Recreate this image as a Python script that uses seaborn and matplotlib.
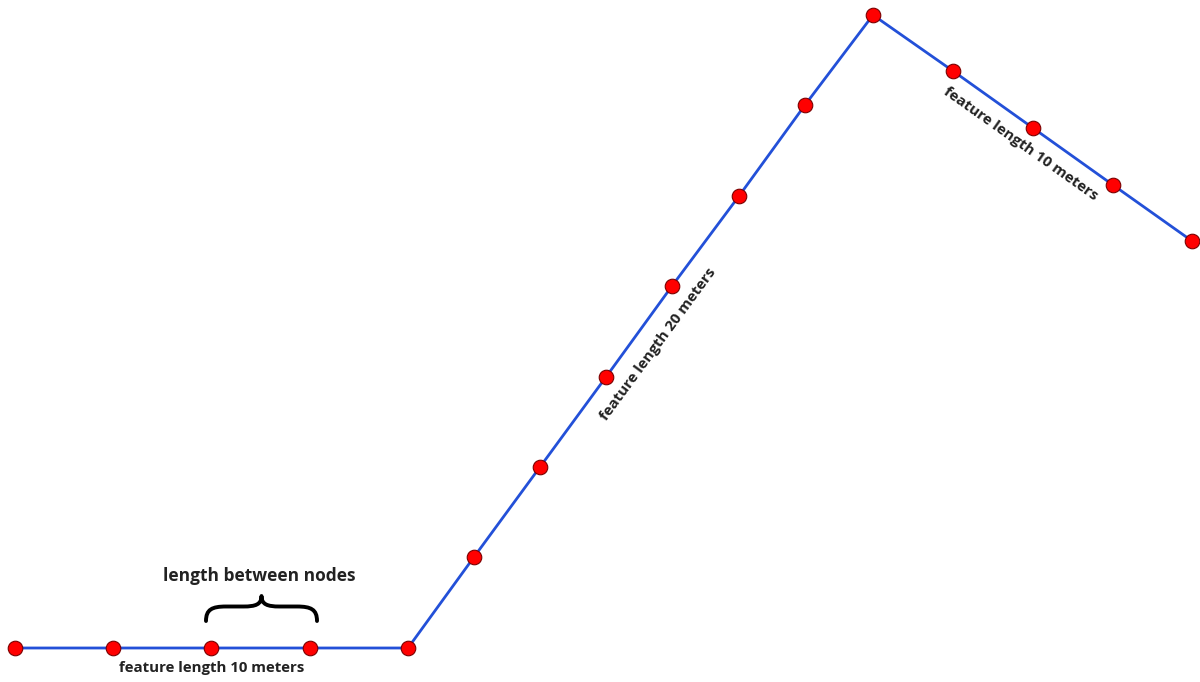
import numpy as np
import pandas as pd
import seaborn as sns
import matplotlib.pyplot as plt
from matplotlib.path import Path
from matplotlib.patches import PathPatch

# Node positions of the polyline (picture units, y grows downward)
node_x = [15, 113, 211, 310, 408, 474, 540, 606, 672, 739, 805, 873, 953, 1033, 1113, 1192]
node_y = [648, 648, 648, 648, 648, 557, 467, 377, 286, 196, 105, 15, 71, 128, 185, 241]

# Labels along each feature
labels = ["feature length 10 meters", "feature length 20 meters", "feature length 10 meters"]
segments = [(0, 4), (4, 11), (11, 15)]   # first / last node of each feature
offsets = [20, 22, 20]                    # distance of label from the line
brace_text = "length between nodes"
brace_nodes = (2, 3)

df = pd.DataFrame({"x": node_x, "y": node_y})

sns.set_theme(style="white")
plt.rcParams['font.family'] = ['Open Sans', 'DejaVu Sans']

fig = plt.figure(figsize=(12, 6.82), dpi=100)
ax = fig.add_axes([0, 0, 1, 1])

sns.lineplot(data=df, x="x", y="y", sort=False, color="#2350d8", linewidth=2.0, ax=ax, zorder=2)
sns.scatterplot(data=df, x="x", y="y", color="#ff0000", edgecolor="#7a0000", linewidth=0.8,
                s=110, ax=ax, zorder=3)

ax.set_xlim(0, 1200)
ax.set_ylim(682, 0)
ax.set_axis_off()

# feature labels, rotated along each segment, placed below the line
for (a, b), text, off in zip(segments, labels, offsets):
    x0, y0, x1, y1 = node_x[a], node_y[a], node_x[b], node_y[b]
    dx, dy = x1 - x0, y1 - y0
    ang = -np.degrees(np.arctan2(dy, dx))
    L = np.hypot(dx, dy)
    nx, ny = -dy / L, dx / L  # normal with positive y (downward on screen)
    cx, cy = (x0 + x1) / 2 + nx * off, (y0 + y1) / 2 + ny * off
    ax.text(cx, cy, text, rotation=ang, rotation_mode="anchor", ha="center", va="center",
            fontsize=10.8, fontweight="bold", color="#222222")

# curly brace between two nodes
bx0 = node_x[brace_nodes[0]] - 5
bx1 = node_x[brace_nodes[1]] + 7
by = node_y[brace_nodes[0]] - 27
h = 25
xm = (bx0 + bx1) / 2
yl = by - h * 0.58
yt = by - h
verts = [
    (bx0, by),
    (bx0, yl + 3), (bx0 + 6, yl), (bx0 + 20, yl),
    (xm - 18, yl),
    (xm - 6, yl), (xm, yl - 2), (xm, yt),
    (xm, yl - 2), (xm + 6, yl), (xm + 18, yl),
    (bx1 - 20, yl),
    (bx1 - 6, yl), (bx1, yl + 3), (bx1, by),
]
codes = [Path.MOVETO,
         Path.CURVE4, Path.CURVE4, Path.CURVE4,
         Path.LINETO,
         Path.CURVE4, Path.CURVE4, Path.CURVE4,
         Path.CURVE4, Path.CURVE4, Path.CURVE4,
         Path.LINETO,
         Path.CURVE4, Path.CURVE4, Path.CURVE4]
ax.add_patch(PathPatch(Path(verts, codes), fill=False, edgecolor="black", linewidth=2.8,
                       capstyle="round", joinstyle="round"))
ax.text(xm - 2, yt - 20, brace_text, ha="center", va="center", fontsize=12.5,
        fontweight="bold", color="#222222")

fig.savefig("out.png", dpi=100)
